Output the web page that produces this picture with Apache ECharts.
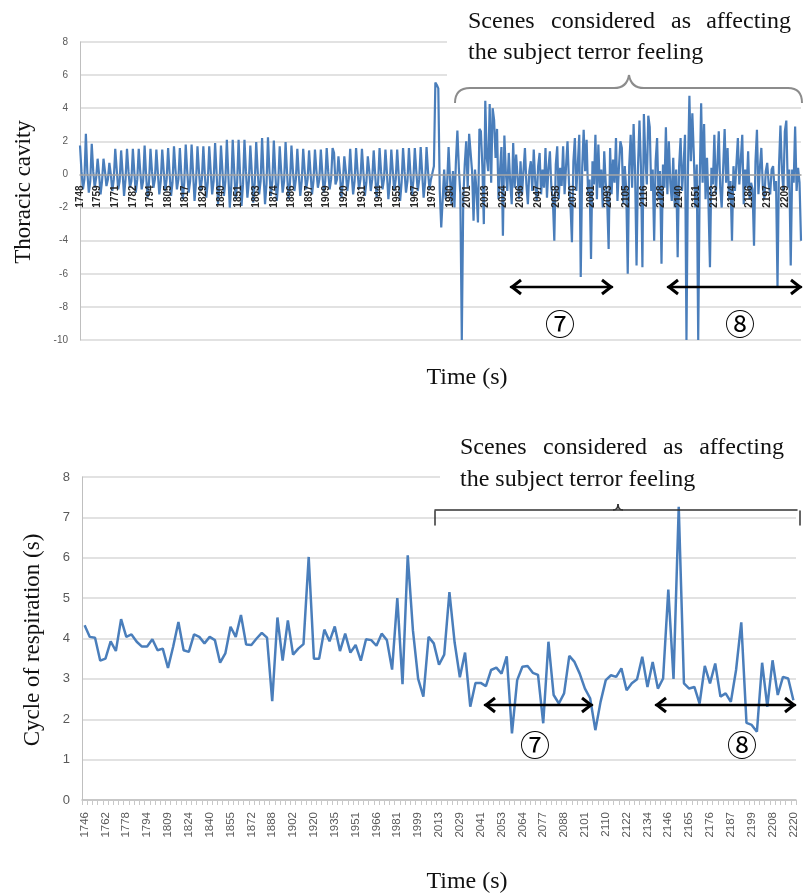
<!DOCTYPE html>
<html><head><meta charset="utf-8">
<script src="https://cdn.jsdelivr.net/npm/echarts/dist/echarts.min.js"></script>
<style>html,body{margin:0;padding:0;background:#fff}#c{width:803px;height:895px}</style>
</head><body><div id="c"></div>
<script>
// ---------- Top panel: thoracic cavity signal ----------
const topTicks = [1748,1759,1771,1782,1794,1805,1817,1829,1840,1851,1863,1874,1886,1897,1909,1920,1931,1944,1955,1967,1978,1990,2001,2013,2024,2036,2047,2058,2070,2081,2093,2105,2116,2128,2140,2151,2163,2174,2186,2197,2209];
// regular breathing: peak, fall, trough, recovery for each breath
const thoracicBase = [
 1.75,0.2,-0.9,-0.3, 2.45,0.1,-1.1,-0.4, 1.85,0.2,-0.8,-0.2, 0.95,0.0,-1.2,-0.4, 0.95,0.2,-0.7,-0.3,
 0.7,0.0,-1.0,-0.3, 1.55,0.3,-0.9,-0.4, 1.45,0.1,-1.3,-0.3, 1.55,0.2,-0.8,-0.4, 1.55,0.1,-1.1,-0.3,
 1.55,0.2,-0.9,-0.4, 1.75,0.0,-1.4,-0.5, 1.55,0.2,-0.8,-0.3, 1.5,0.1,-1.2,-0.4, 1.5,0.2,-1.0,-0.3,
 1.6,0.1,-1.3,-0.5, 1.7,0.3,-0.9,-0.3, 1.6,0.0,-1.5,-0.5, 1.8,0.2,-1.1,-0.4, 1.8,0.1,-1.6,-0.5,
 1.7,0.2,-1.0,-0.3, 1.7,0.0,-1.4,-0.5, 1.7,0.2,-1.2,-0.4, 1.9,0.1,-1.8,-0.6, 1.75,0.2,-1.3,-0.4,
 2.1,0.0,-2.0,-0.7, 2.1,0.2,-1.5,-0.5, 2.1,0.0,-1.9,-0.6, 2.1,0.2,-1.4,-0.4, 1.75,0.1,-1.7,-0.5,
 1.95,0.2,-1.2,-0.4, 2.2,0.0,-1.8,-0.6, 2.25,0.2,-1.3,-0.4, 2.05,0.1,-1.6,-0.5, 1.7,0.2,-1.1,-0.4,
 1.95,0.1,-1.5,-0.5, 1.75,0.2,-1.0,-0.3, 1.55,0.0,-1.3,-0.4, 1.55,0.2,-0.9,-0.3, 1.45,0.1,-1.2,-0.4,
 1.5,0.2,-0.8,-0.3, 1.5,0.1,-1.1,-0.4, 1.6,0.2,-0.9,-0.3, 1.6,1.3,-0.6,-0.3, 1.1,0.1,-1.4,-0.5,
 1.1,0.2,-1.0,-0.3, 1.55,0.0,-1.2,-0.4, 1.6,0.2,-0.9,-0.3, 1.55,0.1,-1.3,-0.5, 1.1,0.2,-1.0,-0.3,
 1.45,0.0,-1.4,-0.5, 1.6,0.2,-0.9,-0.3, 1.5,0.1,-1.5,-0.5, 1.5,0.2,-1.0,-0.3, 1.5,0.0,-1.6,-0.5,
 1.6,0.2,-1.1,-0.4, 1.6,0.1,-1.3,-0.4, 1.6,0.2,-1.0,-0.3, 1.65,0.1,-1.4,-0.5, 1.65,0.2,-0.9,-0.3
];
const thoracicSpike = [-0.3,0.5,5.55,5.4,5.2,-1.0,-3.2,-1.5,0.3];
const thoracicScene7 = [
 -1.5,-0.6,1.65,-0.3,-1.8,0.2,-2.0,0.8,2.65,0.4,
 -1.2,-10,-1.5,0.6,2.0,-0.8,2.45,2.4,0.2,-2.8,
 0.3,-1.0,-2.9,2.75,2.6,0.5,-3.0,4.45,1.0,0.2,
 4.25,-0.5,4.0,3.3,1.0,2.75,-1.5,0.2,1.65,-3.7,
 2.35,0.1,-1.0,1.3,-0.5,-1.8,1.9,-0.8,1.2,-0.2,
 -1.5,0.8,-1.2,0.2,1.6,-0.6,-1.8,0.2,0.8,-1.0,
 1.5,-0.4,-1.6,0.5,1.3,-1.2,0.3,-0.8,1.6,-1.4,
 0.4,1.4,-0.8,-1.5,-4.0,0.6,1.7,-1.5,0.4,-0.7,
 1.7,-1.2,0.5,2.0,-0.5,-1.8,-4.1,0.8,2.2,-1.0,
 0.6,2.4,-6.2,0.4,2.7,0.2,2.1,-1.2,-0.3,-5.1,
 0.8,-0.6,2.4,-1.5,1.8,-0.8,0.3,-2.0,1.4,-0.5,
 -1.6,-4.5,1.6,-1.2,0.9,-0.5,2.2,-1.6,0.4,2.0
];
const thoracicScene8 = [
 1.6,-1.8,0.5,-1.0,-6.0,0.5,2.4,-0.8,3.05,0.2,
 -5.5,0.5,3.25,0.4,-5.6,3.65,1.0,-0.6,3.55,2.85,
 -1.0,0.3,-4.0,0.8,2.2,-1.5,0.2,-5.4,0.6,-0.8,
 2.85,-1.2,2.0,-0.5,-1.6,1.0,-2.0,0.3,-5.0,0.5,
 2.2,-1.0,0.5,2.4,-10,0.2,4.75,0.8,3.7,1.2,
 -2.0,0.6,-10,-0.5,4.3,-0.5,3.05,-1.5,1.0,-1.8,
 -5.6,0.4,-0.6,2.4,-1.2,0.5,2.6,-0.8,-2.0,0.4,
 2.75,-0.5,1.6,-1.5,-0.4,-4.0,0.5,-1.0,0.6,2.2,
 -0.6,0.9,2.4,-1.8,0.3,-0.8,1.4,-1.5,-0.5,-0.9,
 -4.3,0.8,2.7,-1.2,0.4,1.6,-0.8,-1.5,0.2,0.7,
 -0.6,-1.2,0.3,0.5,-1.0,-0.4,-6.8,0.5,2.95,0.2,
 -1.0,2.6,3.25,-0.8,0.3,-5.5,0.3,-0.5,2.9,-1.0,
 0.4,-0.5,-4.0
];
const thoracic = thoracicBase.concat(thoracicSpike, thoracicScene7, thoracicScene8);
const topStep = 12; // samples between labelled ticks
const topCats = thoracic.map((v, i) => (i % topStep === 0 && topTicks[i / topStep] !== undefined) ? String(topTicks[i / topStep]) : '');

// ---------- Bottom panel: cycle of respiration ----------
const bottomTicks = [1746,1762,1778,1794,1809,1824,1840,1855,1872,1888,1902,1920,1935,1951,1966,1981,1999,2013,2029,2041,2053,2064,2077,2088,2101,2110,2122,2134,2146,2165,2176,2187,2199,2208,2220];
const cycle = [
 4.33,4.04,4.02,3.45,3.5,3.93,3.69,4.48,4.04,4.1,
 3.92,3.8,3.8,3.98,3.71,3.75,3.27,3.8,4.41,3.71,
 3.67,4.1,4.04,3.88,4.04,3.96,3.4,3.63,4.29,4.04,
 4.58,3.85,3.84,4.0,4.14,4.02,2.45,4.52,3.45,4.45,
 3.6,3.75,3.86,6.02,3.5,3.5,4.22,3.93,4.3,3.69,
 4.12,3.65,3.84,3.45,3.98,3.96,3.82,4.12,3.96,3.23,
 5.0,2.87,6.06,4.2,3.0,2.56,4.04,3.88,3.35,3.6,
 5.15,3.9,3.04,3.65,2.31,2.9,2.9,2.82,3.22,3.28,
 3.13,3.56,1.65,2.97,3.3,3.32,3.15,3.1,1.9,3.92,
 2.6,2.39,2.64,3.57,3.42,3.13,2.76,2.52,1.73,2.43,
 2.97,3.09,3.05,3.26,2.72,2.89,2.99,3.55,2.8,3.42,
 2.76,3.01,5.21,3.0,7.26,2.89,2.76,2.8,2.39,3.32,
 2.89,3.38,2.56,2.64,2.43,3.22,4.4,1.91,1.86,1.69,
 3.4,2.31,3.46,2.6,3.05,3.01,2.47
];
const bottomStep = 4;
const bottomCats = cycle.map((v, i) => (i % bottomStep === 0 && bottomTicks[i / bottomStep] !== undefined) ? String(bottomTicks[i / bottomStep]) : '');

const blue = '#4a7ebb';
const grid = '#d9d9d9';
const serif = '"Liberation Serif","Times New Roman",serif';

function word(text, x, y, align) {
  return { type: 'text', x: x, y: y, z: 100,
    style: { text: text, font: '24px ' + serif, fill: '#111', textAlign: align || 'left', align: align || 'left', textVerticalAlign: 'middle', verticalAlign: 'middle' } };
}
function seg(x1, y1, x2, y2, color, w) {
  return { type: 'line', z: 100, shape: { x1, y1, x2, y2 }, style: { stroke: color, lineWidth: w, lineCap: 'round' } };
}
function curve(x1, y1, cx, cy, x2, y2, color, w) {
  return { type: 'bezierCurve', z: 100, shape: { x1, y1, cpx1: cx, cpy1: cy, x2, y2 }, style: { stroke: color, lineWidth: w, fill: null } };
}
function arrow(x1, x2, y) {
  return [
    seg(x1, y, x2, y, '#000', 2.5),
    { type: 'polyline', z: 100, shape: { points: [[x1 + 10, y - 7], [x1 + 1, y], [x1 + 10, y + 7]] }, style: { stroke: '#000', lineWidth: 3, fill: null } },
    { type: 'polyline', z: 100, shape: { points: [[x2 - 10, y - 7], [x2 - 1, y], [x2 - 10, y + 7]] }, style: { stroke: '#000', lineWidth: 3, fill: null } }
  ];
}
function circled(t, x, y) {
  return { type: 'text', x, y, z: 100, style: { text: t, font: '30px "Noto Sans CJK JP","DejaVu Sans",sans-serif', fill: '#000', textAlign: 'center', align: 'center', textVerticalAlign: 'middle', verticalAlign: 'middle' } };
}

const elements = [
  { type: 'rect', z: 50, shape: { x: 447, y: 0, width: 356, height: 82 }, style: { fill: '#fff' } },
  { type: 'rect', z: 50, shape: { x: 440, y: 425, width: 363, height: 76 }, style: { fill: '#fff' } },
  word('Scenes', 468, 22), word('considered', 551, 22), word('as', 671, 22), word('affecting', 791, 22, 'right'),
  word('the subject terror feeling', 468, 53),
  word('Scenes', 460, 448), word('considered', 543, 448), word('as', 663, 448), word('affecting', 784, 448, 'right'),
  word('the subject terror feeling', 460, 480),
  curve(455, 103, 455, 88, 470, 88, '#8c8c8c', 2),
  seg(470, 88, 614, 88, '#8c8c8c', 2),
  curve(614, 88, 627, 88, 629, 75, '#8c8c8c', 2),
  curve(629, 75, 631, 88, 644, 88, '#8c8c8c', 2),
  seg(644, 88, 788, 88, '#8c8c8c', 2),
  curve(788, 88, 802, 88, 802, 103, '#8c8c8c', 2),
  seg(435, 525, 435, 511, '#333', 1.5),
  seg(435, 510, 797, 510, '#333', 1.5),
  seg(800, 511, 800, 525, '#333', 1.5),
  curve(613, 510, 618, 510, 618, 504, '#333', 1.5),
  curve(618, 504, 618, 510, 623, 510, '#333', 1.5),
  { type: 'text', x: 24, y: 192, rotation: Math.PI / 2, z: 100, style: { text: 'Thoracic cavity', font: '23px ' + serif, fill: '#111', textAlign: 'center', align: 'center', textVerticalAlign: 'middle', verticalAlign: 'middle' } },
  { type: 'text', x: 33, y: 640, rotation: Math.PI / 2, z: 100, style: { text: 'Cycle of respiration (s)', font: '23px ' + serif, fill: '#111', textAlign: 'center', align: 'center', textVerticalAlign: 'middle', verticalAlign: 'middle' } },
  word('Time (s)', 467, 378, 'center'),
  word('Time (s)', 467, 882, 'center'),
  circled('⑦', 560, 324), circled('⑧', 740, 324),
  circled('⑦', 535, 745), circled('⑧', 742, 745)
].concat(arrow(511, 612, 287), arrow(668, 801, 287), arrow(485, 592, 705), arrow(656, 795, 705));

const chart = echarts.init(document.getElementById('c'), null, { renderer: 'canvas' });
chart.setOption({
  animation: false,
  backgroundColor: '#fff',
  grid: [
    { left: 80, right: 2, top: 42, height: 298 },
    { left: 82, right: 7, top: 477, height: 323 }
  ],
  xAxis: [
    { gridIndex: 0, type: 'category', data: topCats, boundaryGap: false, z: 5,
      offset: -165.6,
      axisLine: { onZero: false, lineStyle: { color: '#a6a6a6', width: 1.5 } },
      axisTick: { show: false },
      axisLabel: { interval: topStep - 1, rotate: 90, fontSize: 10, fontWeight: 'bold', color: '#262626', margin: 11, fontFamily: 'Liberation Sans' } },
    { gridIndex: 1, type: 'category', data: bottomCats, boundaryGap: true,
      axisLine: { lineStyle: { color: '#bfbfbf', width: 1.5 } },
      axisTick: { show: true, interval: 0, length: 5, lineStyle: { color: '#c8c8c8' } },
      axisLabel: { interval: bottomStep - 1, rotate: 90, fontSize: 11.5, color: '#595959', margin: 12, fontFamily: 'Liberation Sans' } }
  ],
  yAxis: [
    { gridIndex: 0, type: 'value', min: -10, max: 8, interval: 2,
      axisLine: { show: true, lineStyle: { color: '#bfbfbf' } }, axisTick: { show: false },
      splitLine: { lineStyle: { color: grid, width: 1.5 } },
      axisLabel: { fontSize: 10, color: '#595959', margin: 12, fontFamily: 'Liberation Sans' } },
    { gridIndex: 1, type: 'value', min: 0, max: 8, interval: 1,
      axisLine: { show: true, lineStyle: { color: '#bfbfbf' } }, axisTick: { show: false },
      splitLine: { lineStyle: { color: grid, width: 1.5 } },
      axisLabel: { fontSize: 13, color: '#595959', margin: 12, fontFamily: 'Liberation Sans' } }
  ],
  series: [
    { type: 'line', xAxisIndex: 0, yAxisIndex: 0, data: thoracic, showSymbol: false, symbol: 'none',
      lineStyle: { color: blue, width: 2.2 }, itemStyle: { color: blue }, z: 2 },
    { type: 'line', xAxisIndex: 1, yAxisIndex: 1, data: cycle, showSymbol: false, symbol: 'none',
      lineStyle: { color: blue, width: 2.5 }, itemStyle: { color: blue }, z: 2 }
  ],
  graphic: { elements: elements }
});
</script>
</body></html>
